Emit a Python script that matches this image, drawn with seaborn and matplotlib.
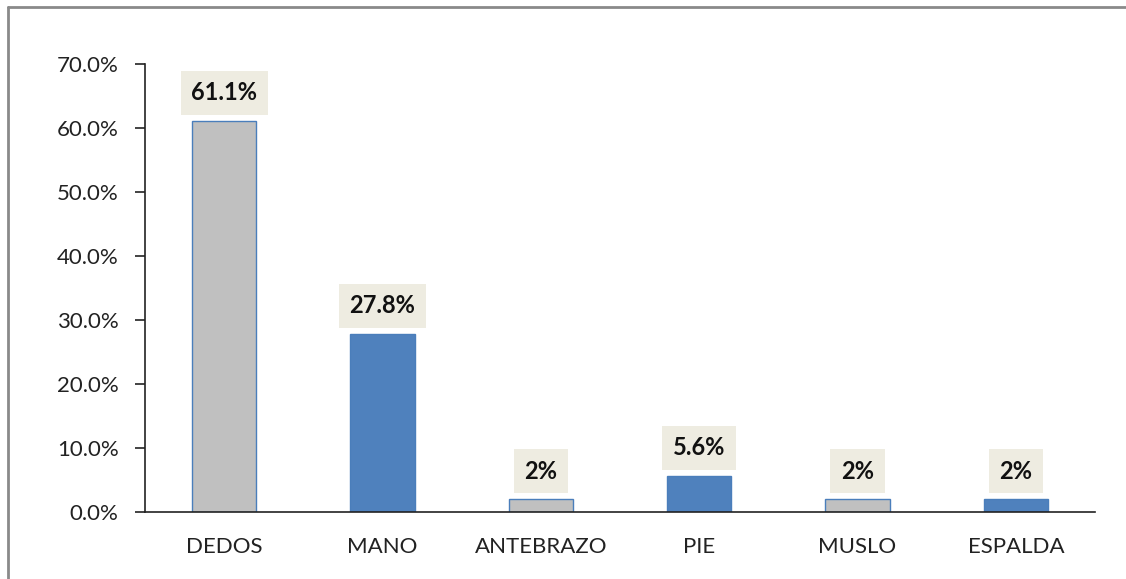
import matplotlib
matplotlib.use("Agg")
import matplotlib.pyplot as plt
import seaborn as sns
import pandas as pd
from matplotlib.lines import Line2D
from matplotlib.ticker import FixedLocator, PercentFormatter

categories = ["DEDOS", "MANO", "ANTEBRAZO", "PIE", "MUSLO", "ESPALDA"]
values = [61.1, 27.8, 2.0, 5.6, 2.0, 2.0]
labels = ["61.1%", "27.8%", "2%", "5.6%", "2%", "2%"]
bar_colors = ["#C0C0C0", "#4F81BD", "#C0C0C0", "#4F81BD", "#C0C0C0", "#4F81BD"]

sns.set_style("white")
plt.rcParams["font.family"] = ["Lato", "DejaVu Sans"]

df = pd.DataFrame({"cat": categories, "val": values})

fig = plt.figure(figsize=(11.26, 5.79), dpi=100)
ax = fig.add_axes([145 / 1126, 1 - 512 / 579, (1095 - 145) / 1126, (512 - 64) / 579])

sns.barplot(data=df, x="cat", y="val", hue="cat", palette=bar_colors,
            legend=False, width=0.405, ax=ax, edgecolor="#4A7EBB", linewidth=1.0,
            saturation=1)

for i, (v, lab) in enumerate(zip(values, labels)):
    ax.annotate(lab, xy=(i, v), xytext=(0, 12), textcoords="offset points",
                ha="center", va="bottom", fontsize=17, fontweight="bold",
                color="#111111",
                bbox=dict(boxstyle="square,pad=0.45", facecolor="#EEECE1",
                          edgecolor="none"))

ax.set_xlim(-0.5, len(categories) - 0.5)
ax.set_ylim(0, 70)
ax.yaxis.set_major_locator(FixedLocator([0, 10, 20, 30, 40, 50, 60, 70]))
ax.yaxis.set_major_formatter(PercentFormatter(decimals=1))
ax.set_xlabel("")
ax.set_ylabel("")

ax.xaxis.set_minor_locator(FixedLocator([i - 0.5 for i in range(len(categories) + 1)]))
ax.tick_params(axis="x", which="major", length=0, pad=18, labelsize=16, labelcolor="#222222")
ax.tick_params(axis="x", which="minor", length=7, width=1.2, direction="out", color="#222222")
ax.tick_params(axis="y", which="major", length=7, width=1.2, direction="out",
               pad=12, labelsize=16, labelcolor="#222222", color="#222222")
ax.tick_params(left=True, bottom=True)

for s in ["top", "right"]:
    ax.spines[s].set_visible(False)
for s in ["left", "bottom"]:
    ax.spines[s].set_color("#222222")
    ax.spines[s].set_linewidth(1.2)

# outer frame (left and top edges only, as in the reference)
fig.add_artist(Line2D([8 / 1126, 8 / 1126], [0, 1 - 7 / 579], color="#8A8A8A", lw=2,
                      transform=fig.transFigure))
fig.add_artist(Line2D([8 / 1126, 1], [1 - 7 / 579, 1 - 7 / 579], color="#8A8A8A", lw=2,
                      transform=fig.transFigure))

fig.savefig("out.png", dpi=100, facecolor="white")
